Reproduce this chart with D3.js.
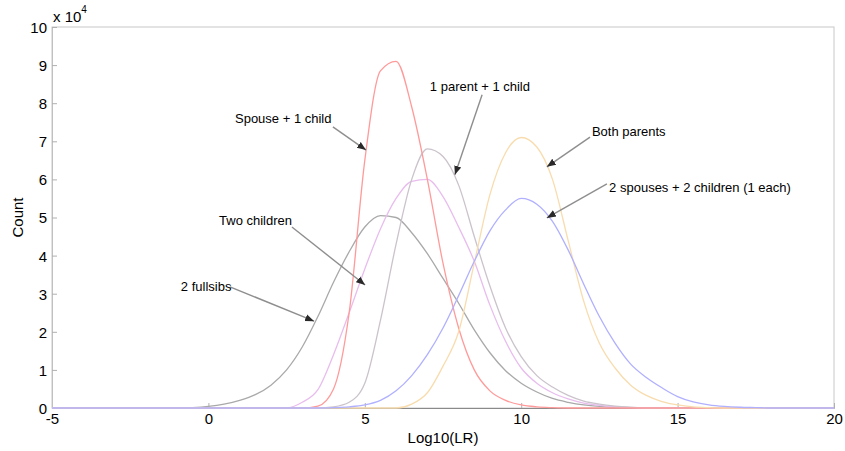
<!DOCTYPE html>
<html>
<head>
<meta charset="utf-8">
<script src="https://cdn.jsdelivr.net/npm/d3@7"></script>
<style>
  body { margin: 0; background: #fff; }
  svg { display: block; font-family: "Liberation Sans", Arial, sans-serif; }
</style>
</head>
<body>
<svg id="chart" width="845" height="451"></svg>
<script>
// log10(LR) bin centres
var lrBins = [-5, -4.5, -4, -3.5, -3, -2.5, -2, -1.5, -1, -0.5,
  0, 0.5, 1, 1.5, 2, 2.5, 3, 3.5, 4, 4.5,
  5, 5.5, 6, 6.5, 7, 7.5, 8, 8.5, 9, 9.5,
  10, 10.5, 11, 11.5, 12, 12.5, 13, 13.5, 14, 14.5,
  15, 15.5, 16, 16.5, 17, 17.5, 18, 18.5, 19, 19.5, 20];

// counts, in units of 10^4
var fullsibs = [0, 0, 0, 0, 0, 0, 0, 0, 0, 0.01,
  0.04, 0.1, 0.2, 0.35, 0.6, 1.0, 1.6, 2.4, 3.3, 4.1,
  4.75, 5.05, 5.0, 4.6, 4.05, 3.4, 2.75, 2.05, 1.45, 0.98,
  0.65, 0.42, 0.25, 0.15, 0.08, 0.04, 0.02, 0.01, 0, 0,
  0, 0, 0, 0, 0, 0, 0, 0, 0, 0, 0];
var parentChild = [0, 0, 0, 0, 0, 0, 0, 0, 0, 0,
  0, 0, 0, 0, 0, 0, 0, 0, 0.03, 0.15,
  0.65, 2.3, 4.3, 6.0, 6.8, 6.6, 5.85, 4.5, 3.2, 2.1,
  1.35, 0.85, 0.55, 0.33, 0.18, 0.1, 0.05, 0.02, 0, 0,
  0, 0, 0, 0, 0, 0, 0, 0, 0, 0, 0];
var twoChildren = [0, 0, 0, 0, 0, 0, 0, 0, 0, 0,
  0, 0, 0, 0, 0, 0, 0.15, 0.48, 1.4, 2.5,
  3.65, 4.7, 5.5, 5.95, 6.0, 5.55, 4.75, 3.85, 2.7, 1.75,
  1.05, 0.65, 0.4, 0.24, 0.13, 0.07, 0.03, 0.01, 0, 0,
  0, 0, 0, 0, 0, 0, 0, 0, 0, 0, 0];
var spouseChild = [0, 0, 0, 0, 0, 0, 0, 0, 0, 0,
  0, 0, 0, 0, 0, 0, 0, 0.05, 0.5, 2.5,
  6.5, 8.85, 9.1, 7.9, 6.0, 3.8, 2.1, 1.0, 0.45, 0.2,
  0.08, 0.03, 0.01, 0, 0, 0, 0, 0, 0, 0,
  0, 0, 0, 0, 0, 0, 0, 0, 0, 0, 0];
var bothParents = [0, 0, 0, 0, 0, 0, 0, 0, 0, 0,
  0, 0, 0, 0, 0, 0, 0, 0, 0, 0,
  0, 0, 0, 0.1, 0.4, 1.1, 2.0, 3.8, 5.6, 6.7,
  7.1, 6.85, 6.0, 4.4, 2.8, 1.7, 1.05, 0.6, 0.33, 0.17,
  0.08, 0.03, 0.01, 0, 0, 0, 0, 0, 0, 0, 0];
var spousesChildren = [0, 0, 0, 0, 0, 0, 0, 0, 0, 0,
  0, 0, 0, 0, 0, 0, 0, 0, 0.01, 0.03,
  0.08, 0.2, 0.45, 0.85, 1.4, 2.1, 2.95, 3.85, 4.65, 5.2,
  5.5, 5.35, 4.9, 4.15, 3.25, 2.4, 1.7, 1.15, 0.8, 0.53,
  0.3, 0.16, 0.08, 0.04, 0.02, 0.01, 0, 0, 0, 0, 0];

var xTicks = [-5, 0, 5, 10, 15, 20];
var yTicks = [0, 1, 2, 3, 4, 5, 6, 7, 8, 9, 10];

var series = [
  { name: '2 fullsibs', values: fullsibs, color: '#a9a9a9' },
  { name: 'Two children', values: twoChildren, color: '#e8bdee' },
  { name: '1 parent + 1 child', values: parentChild, color: '#cbc3cb' },
  { name: 'Spouse + 1 child', values: spouseChild, color: '#ff9a9a' },
  { name: 'Both parents', values: bothParents, color: '#f8dcae' },
  { name: '2 spouses + 2 children (1 each)', values: spousesChildren, color: '#b0b0ff' }
];

// annotation text, then where it sits and where its arrow points (data units)
var noteLabels = ['Spouse + 1 child', '1 parent + 1 child', 'Both parents',
  '2 spouses + 2 children (1 each)', 'Two children', '2 fullsibs'];
var noteLayout = [
  { tx: 0.85, ty: 7.59, x1: 3.98, y1: 7.38, x2: 5.04, y2: 6.77 },
  { tx: 7.08, ty: 8.45, x1: 8.75, y1: 8.22, x2: 7.88, y2: 6.12 },
  { tx: 12.26, ty: 7.27, x1: 12.2, y1: 7.11, x2: 10.82, y2: 6.33 },
  { tx: 12.81, ty: 5.80, x1: 12.74, y1: 5.88, x2: 10.82, y2: 4.99 },
  { tx: 0.34, ty: 4.93, x1: 2.67, y1: 4.75, x2: 5.01, y2: 3.23 },
  { tx: -0.88, ty: 3.20, x1: 0.69, y1: 3.18, x2: 3.38, y2: 2.28 }
];

var margin = { top: 27, right: 11, bottom: 43, left: 52 };
var width = 845, height = 451;
var svg = d3.select('#chart');

var x = d3.scaleLinear().domain([-5, 20]).range([margin.left, width - margin.right]);
var y = d3.scaleLinear().domain([0, 10]).range([height - margin.bottom, margin.top]);

// box
svg.append('rect')
  .attr('x', x(-5)).attr('y', y(10))
  .attr('width', x(20) - x(-5)).attr('height', y(0) - y(10))
  .attr('fill', 'none').attr('stroke', '#c8c8c8').attr('stroke-width', 1);

// axes
var plain = function(d) { return String(d); };
var xAxis = svg.append('g')
  .attr('transform', 'translate(0,' + y(0) + ')')
  .call(d3.axisBottom(x).tickValues(xTicks).tickFormat(plain)
    .tickSizeInner(-5).tickSizeOuter(0).tickPadding(5));
var yAxis = svg.append('g')
  .attr('transform', 'translate(' + x(-5) + ',0)')
  .call(d3.axisLeft(y).tickValues(yTicks).tickFormat(plain)
    .tickSizeInner(-5).tickSizeOuter(0).tickPadding(5));

xAxis.select('.domain').attr('stroke', '#8a8a8a');
yAxis.select('.domain').attr('stroke', '#c0c0c0');
svg.selectAll('.tick line').attr('stroke', '#b0b0b0');
svg.selectAll('.tick text').attr('fill', '#000').style('font-size', '15px')
  .style('font-family', '"Liberation Sans", Arial, sans-serif');
yAxis.selectAll('.tick text').attr('dy', '0.36em');

// exponent note
var expo = svg.append('text')
  .attr('x', x(-5) + 1).attr('y', y(10) - 5)
  .style('font-size', '15px');
expo.append('tspan').text('x 10');
expo.append('tspan').attr('dy', -9).style('font-size', '10px').text('4');

// axis titles
svg.append('text')
  .attr('x', (x(-5) + x(20)) / 2).attr('y', 443)
  .attr('text-anchor', 'middle').style('font-size', '15px')
  .text('Log10(LR)');
svg.append('text')
  .attr('transform', 'translate(23,' + (y(0) + y(10)) / 2 + ') rotate(-90)')
  .attr('text-anchor', 'middle').style('font-size', '15px')
  .text('Count');

// curves
var line = d3.line()
  .x(function(d) { return x(d[0]); })
  .y(function(d) { return y(d[1]); })
  .curve(d3.curveMonotoneX);

svg.append('g').selectAll('path')
  .data(series)
  .enter().append('path')
  .attr('d', function(s) {
    return line(lrBins.map(function(v, i) { return [v, s.values[i]]; }));
  })
  .attr('fill', 'none')
  .attr('stroke', function(s) { return s.color; })
  .attr('stroke-width', 1.3);

// arrow heads
svg.append('defs').append('marker')
  .attr('id', 'head')
  .attr('viewBox', '0 0 10 10')
  .attr('refX', 10).attr('refY', 5)
  .attr('markerWidth', 9).attr('markerHeight', 9)
  .attr('markerUnits', 'userSpaceOnUse')
  .attr('orient', 'auto')
  .append('path')
  .attr('d', 'M0,1 L10,5 L0,9 Z')
  .attr('fill', '#2a2a2a');

var notes = svg.append('g').selectAll('g')
  .data(noteLayout)
  .enter().append('g');

notes.append('line')
  .attr('x1', function(d) { return x(d.x1); })
  .attr('y1', function(d) { return y(d.y1); })
  .attr('x2', function(d) { return x(d.x2); })
  .attr('y2', function(d) { return y(d.y2); })
  .attr('stroke', '#8e8e8e')
  .attr('stroke-width', 1.4)
  .attr('marker-end', 'url(#head)');

notes.append('text')
  .attr('x', function(d) { return x(d.tx); })
  .attr('y', function(d) { return y(d.ty); })
  .attr('dy', '0.35em')
  .style('font-size', '13px')
  .text(function(d, i) { return noteLabels[i]; });
</script>
</body>
</html>
